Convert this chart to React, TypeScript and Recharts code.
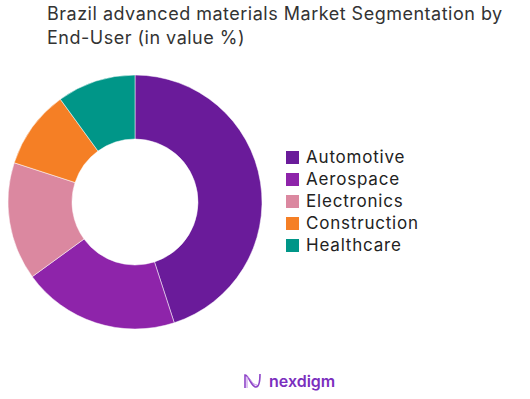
import { PieChart, Pie, Cell, Legend } from "recharts";

const segments = ["Automotive", "Aerospace", "Electronics", "Construction", "Healthcare"];
const shares = [45, 20, 15, 10, 10];
const colors = ["#6A1B9A", "#8E24AA", "#DB88A0", "#F57F25", "#009688"];

const data = segments.map((name, i) => ({ name, value: shares[i] }));

const FONT = "Inter, 'Open Sans', sans-serif";

function SideLegend() {
  return (
    <div style={{ fontFamily: FONT, fontSize: 17, letterSpacing: 0.8, color: "#222" }}>
      {segments.map((name, i) => (
        <div key={name} style={{ display: "flex", alignItems: "center", height: 22 }}>
          <span style={{ width: 13, height: 13, background: colors[i], display: "inline-block", marginRight: 7 }} />
          <span>{name}</span>
        </div>
      ))}
    </div>
  );
}

export default function App() {
  return (
    <div style={{ position: "absolute", left: 0, top: 0, width: 530, height: 399, background: "#fff" }}>
      <div
        style={{
          position: "absolute",
          left: 47,
          top: 2,
          fontFamily: FONT,
          fontSize: 18,
          letterSpacing: 0.5,
          lineHeight: "24px",
          color: "#333",
          width: 483,
          whiteSpace: "nowrap",
        }}
      >
        Brazil advanced materials Market Segmentation by
        <br />
        End-User (in value %)
      </div>
      <PieChart width={530} height={399} margin={{ top: 0, right: 0, bottom: 0, left: 0 }}>
        <Pie
          data={data}
          dataKey="value"
          nameKey="name"
          cx={135}
          cy={202}
          innerRadius={63}
          outerRadius={127}
          startAngle={90}
          endAngle={-270}
          stroke="#fff"
          strokeWidth={0.5}
          isAnimationActive={false}
        >
          {data.map((d, i) => (
            <Cell key={d.name} fill={colors[i]} />
          ))}
        </Pie>
        <Legend
          content={() => <SideLegend />}
          wrapperStyle={{ position: "absolute", left: 286, top: 146, width: 220 }}
        />
      </PieChart>
      <div
        style={{
          position: "absolute",
          left: 243,
          top: 371,
          display: "flex",
          alignItems: "center",
          fontFamily: FONT,
          fontSize: 16,
          fontWeight: 600,
          color: "#7B2FBE",
        }}
      >
        <svg width="20" height="16" viewBox="0 0 20 16" style={{ marginRight: 6 }}>
          <path d="M2 15 V2 C6 2 8 14 13 14 C16 14 17 8 17 1" fill="none" stroke="#8E44C8" strokeWidth="1.6" />
          <path d="M4 15 V4 C7 4 9 12 14 12" fill="none" stroke="#C08BE6" strokeWidth="1" />
        </svg>
        nexdigm
      </div>
    </div>
  );
}
